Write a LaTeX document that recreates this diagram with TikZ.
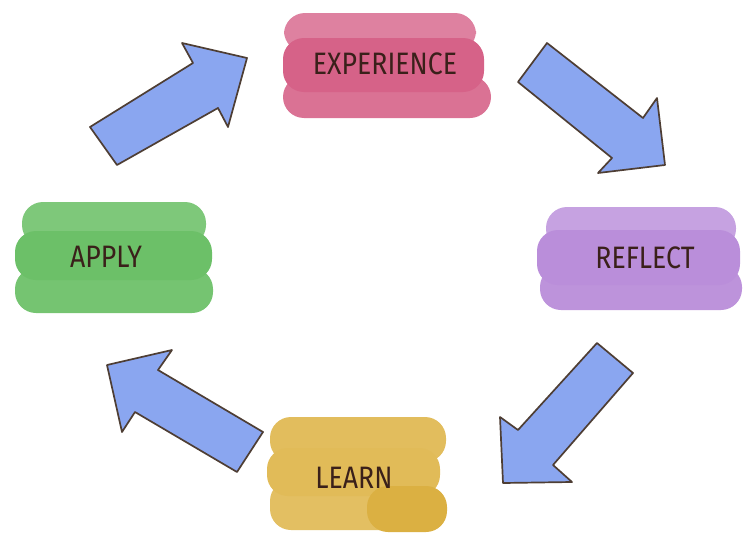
\documentclass[tikz,border=0pt]{standalone}
\usepackage{fontspec}
\newfontfamily\handfont{Fira Sans}[FakeStretch=0.86]
\usepackage{tikz}
\usetikzlibrary{backgrounds}

\definecolor{ink}{RGB}{58,32,26}
\definecolor{pencil}{RGB}{78,62,52}
\definecolor{arrowblue}{RGB}{138,166,240}
\definecolor{expcol}{RGB}{214,98,136}
\definecolor{reflcol}{RGB}{186,142,218}
\definecolor{learncol}{RGB}{225,187,88}
\definecolor{learndark}{RGB}{219,176,66}
\definecolor{applycol}{RGB}{108,192,104}

\begin{document}
\begin{tikzpicture}[
  x=1pt, y=-1pt,
  stage/.style={font=\handfont\fontsize{31}{34}\selectfont, text=ink, inner sep=0pt},
  blob/.style={fill=#1, rounded corners=21pt},
  bigarrow/.style={fill=arrowblue, draw=pencil, line width=1.7pt, line join=round}
]
\useasboundingbox (0,0) rectangle (750,533);

% ---- stage labels ----
\node[stage] (exp)   at (385,64)  {EXPERIENCE};
\node[stage] (refl)  at (645,258) {REFLECT};
\node[stage] (learn) at (354,478) {LEARN};
\node[stage] (apply) at (106,257) {APPLY};

% ---- paint strokes behind the labels ----
\begin{scope}[on background layer]
\fill[blob=expcol!80!white] (284,13) rectangle (476,52);
\fill[blob=expcol!90!white] (283,76) rectangle (491,118);
\fill[blob=expcol] (283,38) rectangle (484,92);

\fill[blob=reflcol!82!white] (546,207) rectangle (736,250);
\fill[blob=reflcol!96!white] (540,266) rectangle (742,310);
\fill[blob=reflcol] (537,230) rectangle (740,285);

\fill[blob=learncol!97!white] (270,417) rectangle (446,462);
\fill[blob=learncol!94!white] (270,480) rectangle (436,530);
\fill[blob=learncol] (267,448) rectangle (440,496);
\fill[blob=learndark] (367,486) rectangle (447,532);

\fill[blob=applycol!88!white] (22,202) rectangle (206,246);
\fill[blob=applycol!94!white] (15,268) rectangle (213,313);
\fill[blob=applycol] (15,231) rectangle (212,280);
\end{scope}

% ---- cycle arrows ----
\draw[bigarrow] (90,127) -- (193,63) -- (182,43) -- (247,58)
  -- (228,127) -- (218,108) -- (117,165) -- cycle;
\draw[bigarrow] (547,43) -- (643,118) -- (657,98) -- (665,165)
  -- (598,173) -- (612,158) -- (518,82) -- cycle;
\draw[bigarrow] (597,343) -- (633,373) -- (553,465) -- (572,482)
  -- (503,483) -- (500,417) -- (518,430) -- cycle;
\draw[bigarrow] (263,432) -- (237,472) -- (135,412) -- (122,432)
  -- (107,365) -- (172,350) -- (158,370) -- cycle;
\end{tikzpicture}
\end{document}
